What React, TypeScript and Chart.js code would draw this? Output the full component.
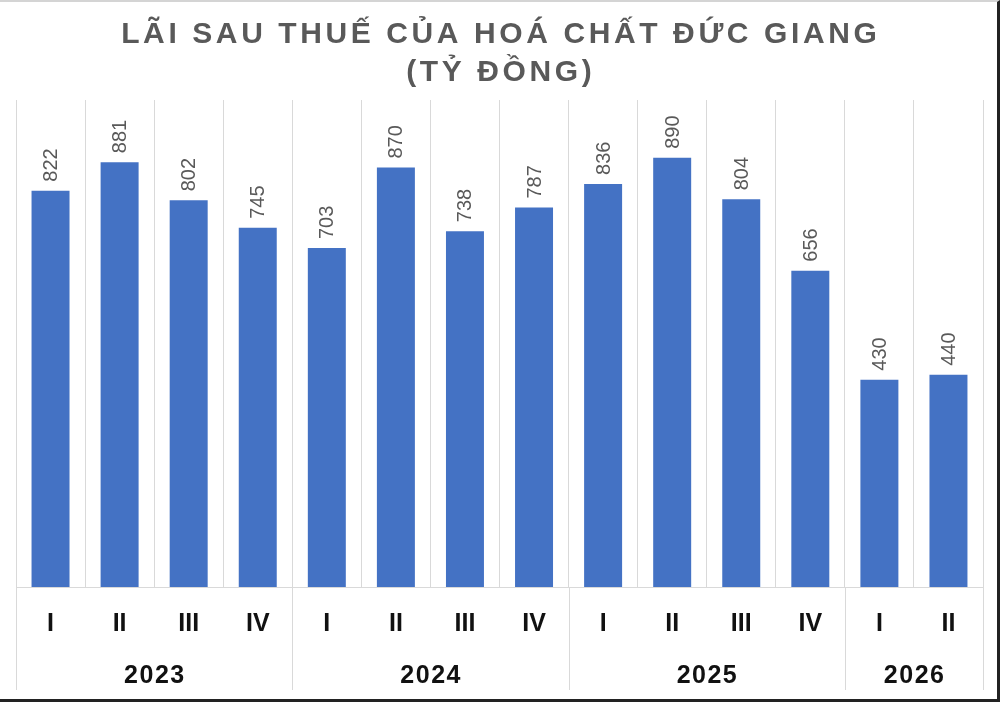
import { useEffect, useRef } from "react";
import { Chart, registerables } from "chart.js";

Chart.register(...registerables);

const titleLines = ["LÃI SAU THUẾ CỦA HOÁ CHẤT ĐỨC GIANG", "(TỶ ĐỒNG)"];
const quarters = ["I", "II", "III", "IV", "I", "II", "III", "IV", "I", "II", "III", "IV", "I", "II"];
const profits = [822, 881, 802, 745, 703, 870, 738, 787, 836, 890, 804, 656, 430, 440];
const years = ["2023", "2024", "2025", "2026"];
const quartersPerYear = [4, 4, 4, 2];

const BAR = "#4472C4";
const GRID = "#d9d9d9";
const LABEL = "#595959";
const FONT = '"Liberation Sans", Arial, sans-serif';

const titlePlugin = {
  id: "spacedTitle",
  afterDraw(chart: any) {
    const ctx = chart.ctx as CanvasRenderingContext2D;
    ctx.save();
    ctx.fillStyle = LABEL;
    ctx.font = `bold 30px ${FONT}`;
    (ctx as any).letterSpacing = "3.6px";
    ctx.textAlign = "center";
    ctx.textBaseline = "alphabetic";
    const cx = 499 + 1.8;
    ctx.fillText(titleLines[0], cx, 43);
    ctx.fillText(titleLines[1], cx, 81);
    ctx.restore();
  },
};

const valueLabelPlugin = {
  id: "valueLabels",
  afterDatasetsDraw(chart: any) {
    const ctx = chart.ctx as CanvasRenderingContext2D;
    const meta = chart.getDatasetMeta(0);
    ctx.save();
    ctx.fillStyle = LABEL;
    ctx.font = `20px ${FONT}`;
    ctx.textAlign = "left";
    ctx.textBaseline = "middle";
    meta.data.forEach((el: any, i: number) => {
      ctx.save();
      ctx.translate(el.x, el.y - 9);
      ctx.rotate(-Math.PI / 2);
      ctx.fillText(String(profits[i]), 0, 1);
      ctx.restore();
    });
    ctx.restore();
  },
};

const yearPlugin = {
  id: "yearGroups",
  afterDraw(chart: any) {
    const ctx = chart.ctx as CanvasRenderingContext2D;
    const xs = chart.scales.x;
    const area = chart.chartArea;
    const step = (area.right - area.left) / quarters.length;
    ctx.save();
    ctx.strokeStyle = GRID;
    ctx.lineWidth = 1;
    let idx = 0;
    const boundary = (k: number) => Math.round(xs.getPixelForValue(0) - step / 2 + k * step) + 0.5;
    const drawSep = (k: number) => {
      const x = boundary(k);
      ctx.beginPath();
      ctx.moveTo(x, area.bottom);
      ctx.lineTo(x, 690);
      ctx.stroke();
    };
    drawSep(0);
    ctx.fillStyle = "#111111";
    ctx.font = `bold 25px ${FONT}`;
    (ctx as any).letterSpacing = "1.5px";
    ctx.textAlign = "center";
    ctx.textBaseline = "middle";
    years.forEach((y, i) => {
      const n = quartersPerYear[i];
      const center = xs.getPixelForValue(0) - step / 2 + (idx + n / 2) * step;
      ctx.fillText(y, center + 0.75, 676);
      idx += n;
      drawSep(idx);
    });
    ctx.restore();
  },
};

export default function App() {
  const ref = useRef<HTMLCanvasElement | null>(null);

  useEffect(() => {
    document.body.style.margin = "0";
    if (!ref.current) return;
    const chart = new Chart(ref.current, {
      type: "bar",
      data: {
        labels: quarters,
        datasets: [
          {
            data: profits,
            backgroundColor: BAR,
            borderWidth: 0,
            barPercentage: 0.55,
            categoryPercentage: 1,
          },
        ],
      },
      options: {
        animation: false,
        responsive: false,
        maintainAspectRatio: false,
        devicePixelRatio: 1,
        layout: { padding: { top: 100, left: 16, right: 17, bottom: 41 } },
        plugins: {
          legend: { display: false },
          title: { display: false },
          tooltip: { enabled: false },
        },
        scales: {
          x: {
            offset: true,
            grid: {
              offset: true,
              color: GRID,
              lineWidth: 1,
              drawTicks: false,
            },
            border: { display: true, color: GRID, width: 1 },
            ticks: {
              color: "#111111",
              font: { family: FONT, size: 25, weight: "bold" },
              padding: 22,
              maxRotation: 0,
              autoSkip: false,
            },
          },
          y: {
            display: false,
            min: 0,
            max: 1010,
          },
        },
      },
      plugins: [titlePlugin, valueLabelPlugin, yearPlugin],
    });
    return () => chart.destroy();
  }, []);

  return (
    <div style={{ position: "relative", width: 1000, height: 702, background: "#ffffff" }}>
      <canvas ref={ref} width={1000} height={702} style={{ display: "block", width: 1000, height: 702 }} />
      <div
        style={{
          position: "absolute",
          inset: 0,
          boxSizing: "border-box",
          borderTop: "2px solid #d4d4d4",
          borderRight: "3px solid #222222",
          borderBottom: "3px solid #222222",
          pointerEvents: "none",
        }}
      />
    </div>
  );
}
